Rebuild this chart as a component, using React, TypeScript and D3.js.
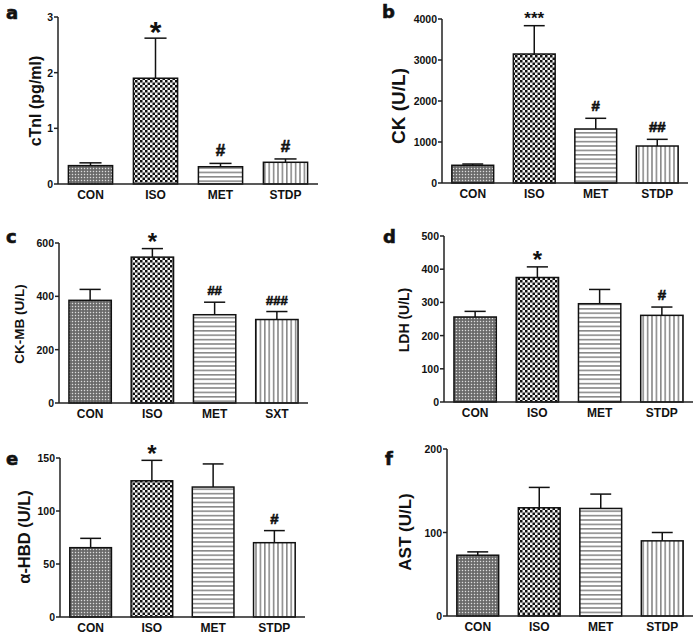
import React from "react";
import * as d3 from "d3";

// ---------- data ----------
const groups = ["CON", "ISO", "MET", "STDP"];
const groupsC = ["CON", "ISO", "MET", "SXT"];

const cTnIMean = [0.33, 1.9, 0.31, 0.39];
const cTnISem = [0.05, 0.72, 0.06, 0.06];
const cTnISig = ["", "*", "#", "#"];
const cTnITicks = [0, 1, 2, 3];

const ckMean = [432, 3146, 1317, 902];
const ckSem = [31, 691, 261, 163];
const ckSig = ["", "***", "#", "##"];
const ckTicks = [0, 1000, 2000, 3000, 4000];

const ckmbMean = [385, 547, 331, 313];
const ckmbSem = [41, 32, 47, 30];
const ckmbSig = ["", "*", "##", "###"];
const ckmbTicks = [0, 200, 400, 600];

const ldhMean = [256, 375, 296, 261];
const ldhSem = [17, 32, 43, 25];
const ldhSig = ["", "*", "", "#"];
const ldhTicks = [0, 100, 200, 300, 400, 500];

const hbdMean = [65.4, 128.5, 122.6, 70.1];
const hbdSem = [8.8, 19.3, 21.8, 11.4];
const hbdSig = ["", "*", "", "#"];
const hbdTicks = [0, 50, 100, 150];

const astMean = [72.8, 129.6, 128.8, 90];
const astSem = [4, 24.4, 17.2, 10];
const astSig = ["", "", "", ""];
const astTicks = [0, 100, 200];

const FONT = "'Liberation Sans', Arial, Helvetica, sans-serif";
const patternIds = ["pCon", "pIso", "pMet", "pStdp"];

type Cfg = {
  letter: string;
  title: string;
  groups: string[];
  mean: number[];
  sem: number[];
  sig: string[];
  ticks: number[];
  x0: number; x1: number; yTop: number; yBot: number;
  titleX: number; titleY: number; titleSize: number;
  letterX: number; letterY: number;
  starSize: number; hashSize: number;
};

const panels: Cfg[] = [
  { letter: "a", title: "cTnI (pg/ml)", groups, mean: cTnIMean, sem: cTnISem, sig: cTnISig, ticks: cTnITicks,
    x0: 58, x1: 318, yTop: 17, yBot: 184, titleX: 35, titleY: 101, titleSize: 16, letterX: 6, letterY: 19, starSize: 30, hashSize: 17 },
  { letter: "b", title: "CK (U/L)", groups, mean: ckMean, sem: ckSem, sig: ckSig, ticks: ckTicks,
    x0: 442, x1: 688, yTop: 19, yBot: 183, titleX: 398, titleY: 106, titleSize: 19, letterX: 382, letterY: 18, starSize: 17, hashSize: 15 },
  { letter: "c", title: "CK-MB (U/L)", groups: groupsC, mean: ckmbMean, sem: ckmbSem, sig: ckmbSig, ticks: ckmbTicks,
    x0: 59, x1: 308, yTop: 243, yBot: 403, titleX: 19, titleY: 324, titleSize: 13.5, letterX: 6, letterY: 243, starSize: 24, hashSize: 13 },
  { letter: "d", title: "LDH (U/L)", groups, mean: ldhMean, sem: ldhSem, sig: ldhSig, ticks: ldhTicks,
    x0: 444, x1: 693, yTop: 236, yBot: 402, titleX: 404, titleY: 320, titleSize: 14, letterX: 383, letterY: 243, starSize: 24, hashSize: 15 },
  { letter: "e", title: "α-HBD (U/L)", groups, mean: hbdMean, sem: hbdSem, sig: hbdSig, ticks: hbdTicks,
    x0: 60, x1: 305, yTop: 458, yBot: 617, titleX: 24, titleY: 537, titleSize: 16.5, letterX: 6, letterY: 465, starSize: 24, hashSize: 15 },
  { letter: "f", title: "AST (U/L)", groups, mean: astMean, sem: astSem, sig: astSig, ticks: astTicks,
    x0: 447, x1: 693, yTop: 449, yBot: 616, titleX: 405, titleY: 532, titleSize: 17, letterX: 385, letterY: 465, starSize: 24, hashSize: 15 },
];

function Panel({ c }: { c: Cfg }) {
  const x = d3.scaleBand<string>().domain(c.groups).range([c.x0, c.x1]).paddingInner(0.32).paddingOuter(0.16);
  const y = d3.scaleLinear().domain([0, c.ticks[c.ticks.length - 1]]).range([c.yBot, c.yTop]);
  const bw = x.bandwidth();
  const axisColor = "#222";
  return (
    <g>
      <text x={c.letterX} y={c.letterY} fontFamily="'DejaVu Sans', Verdana, sans-serif" fontWeight="bold" fontSize={18} fill="#111" stroke="#111" strokeWidth={0.6}>
        {c.letter}
      </text>
      <text
        transform={`translate(${c.titleX},${c.titleY}) rotate(-90)`}
        textAnchor="middle"
        dominantBaseline="central"
        fontFamily={FONT}
        fontWeight="bold"
        fontSize={c.titleSize}
        fill="#111"
      >
        {c.title}
      </text>
      {c.groups.map((g, i) => {
        const bx = x(g) as number;
        const top = y(c.mean[i]);
        const errTop = y(c.mean[i] + c.sem[i]);
        const cx = bx + bw / 2;
        const s = c.sig[i];
        const isStar = s.startsWith("*");
        const size = isStar ? c.starSize : c.hashSize;
        const ty = isStar ? errTop - 9 + 0.44 * size : errTop - 7;
        return (
          <g key={g}>
            <line x1={cx} x2={cx} y1={top} y2={errTop} stroke="#111" strokeWidth={1.5} />
            <line x1={cx - bw / 4} x2={cx + bw / 4} y1={errTop} y2={errTop} stroke="#111" strokeWidth={1.5} />
            <rect x={bx} y={top} width={bw} height={c.yBot - top} fill={`url(#${patternIds[i]})`} stroke="#111" strokeWidth={1.5} />
            {s && (
              <text x={cx} y={ty} textAnchor="middle" fontFamily={FONT} fontWeight="bold" fontSize={size} fill="#111" stroke="#111" strokeWidth={isStar ? 0 : 0.6}>
                {s}
              </text>
            )}
            <text x={cx} y={c.yBot + 15} textAnchor="middle" fontFamily={FONT} fontWeight="bold" fontSize={12} fill="#111">
              {g}
            </text>
          </g>
        );
      })}
      <line x1={c.x0} x2={c.x0} y1={c.yTop} y2={c.yBot} stroke={axisColor} strokeWidth={1.5} />
      <line x1={c.x0} x2={c.x1} y1={c.yBot} y2={c.yBot} stroke={axisColor} strokeWidth={1.5} />
      {c.ticks.map((t) => (
        <g key={t}>
          <line x1={c.x0 - 4} x2={c.x0} y1={y(t)} y2={y(t)} stroke={axisColor} strokeWidth={1.5} />
          <text x={c.x0 - 5} y={y(t)} textAnchor="end" dominantBaseline="central" fontFamily={FONT} fontWeight="bold" fontSize={10.5} fill="#111">
            {t}
          </text>
        </g>
      ))}
    </g>
  );
}

export default function App() {
  return (
    <svg width={700} height={637} style={{ position: "absolute", left: 0, top: 0, background: "#fff" }}>
      <defs>
        <pattern id="pCon" patternUnits="userSpaceOnUse" width={3} height={3}>
          <rect width={3} height={3} fill="#7c7c7c" />
          <rect x={0} y={0} width={1} height={1} fill="#dcdcdc" />
          <rect x={1.5} y={1.5} width={1} height={1} fill="#333" />
        </pattern>
        <pattern id="pIso" patternUnits="userSpaceOnUse" width={5} height={5}>
          <rect width={5} height={5} fill="#f4f4f4" />
          <rect x={0} y={0} width={2.5} height={2.5} fill="#111" />
          <rect x={2.5} y={2.5} width={2.5} height={2.5} fill="#111" />
        </pattern>
        <pattern id="pMet" patternUnits="userSpaceOnUse" width={4.4} height={4.4}>
          <rect width={4.4} height={4.4} fill="#fff" />
          <rect x={0} y={0} width={4.4} height={1.6} fill="#8a8a8a" />
        </pattern>
        <pattern id="pStdp" patternUnits="userSpaceOnUse" width={4.4} height={4.4}>
          <rect width={4.4} height={4.4} fill="#fff" />
          <rect x={0} y={0} width={1.6} height={4.4} fill="#8a8a8a" />
        </pattern>
      </defs>
      {panels.map((p) => (
        <Panel key={p.letter} c={p} />
      ))}
    </svg>
  );
}
